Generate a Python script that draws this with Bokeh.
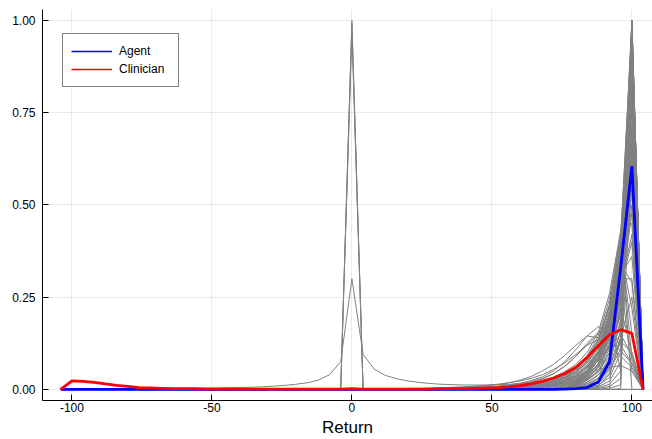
from bokeh.plotting import figure
from bokeh.models import FixedTicker, Range1d, Legend, LegendItem
from bokeh.embed import file_html
from bokeh.resources import INLINE

# ---------------- data ----------------
XS = [-104, -100, -96, -92, -88, -84, -80, -76, -72, -68, -64, -60, -56, -52, -48,
      -44, -40, -36, -32, -28, -24, -20, -16, -12, -8, -4, 0, 4, 8, 12, 16, 20,
      24, 28, 32, 36, 40, 44, 48, 52, 56, 60, 64, 68, 72, 76, 80, 84, 88, 92, 96,
      100, 104]

AGENT = [0, 0, 0, 0, 0, 0, 0, 0, 0, 0, 0, 0, 0, 0, 0, 0, 0, 0, 0, 0, 0, 0, 0, 0,
         0, 0, 0, 0, 0, 0, 0, 0, 0, 0, 0, 0, 0, 0, 0, 0, 0, 0, 0, 0, 0,
         0.001, 0.002, 0.005, 0.020, 0.075, 0.330, 0.605, 0]

CLINICIAN = [0, 0.023, 0.022, 0.019, 0.015, 0.011, 0.008, 0.005, 0.004, 0.003,
             0.002, 0.002, 0.002, 0.001, 0.001, 0.001, 0.001, 0.001, 0.001, 0.001,
             0.001, 0.001, 0.001, 0.001, 0.001, 0.001, 0.002, 0.001, 0.001, 0.001,
             0.001, 0.001, 0.001, 0.001, 0.002, 0.002, 0.002, 0.003, 0.004, 0.005,
             0.007, 0.010, 0.015, 0.022, 0.031, 0.043, 0.060, 0.087, 0.118, 0.148,
             0.162, 0.152, 0]

GRAY_CENTRAL = [0, 0.001, 0.001, 0.001, 0.001, 0.002, 0.002, 0.002, 0.002, 0.003,
                0.003, 0.003, 0.003, 0.004, 0.004, 0.005, 0.005, 0.006, 0.007, 0.009,
                0.011, 0.014, 0.018, 0.025, 0.040, 0.075, 0.300, 0.095, 0.055, 0.038,
                0.029, 0.023, 0.019, 0.016, 0.014, 0.013, 0.012, 0.012, 0.012, 0.013,
                0.014, 0.016, 0.018, 0.021, 0.025, 0.030, 0.036, 0.044, 0.052, 0.060,
                0.065, 0.050, 0]

ZERO_SPIKE_PEAKS = [1.0, 0.97, 0.99]

TAIL_X = [20, 24, 28, 32, 36, 40, 44, 48, 52, 56, 60, 64, 68, 72, 76, 80, 84, 88,
          92, 96, 100, 104]

GRAY_TAILS = [
    [0, 0, 0, 0, 0, 0, 0, 0, 0, 0.008, 0.012, 0.017, 0.024, 0.033, 0.048, 0.068, 0.100, 0.155, 0.260, 0.430, 0.000, 0],
    [0, 0, 0, 0, 0, 0, 0, 0, 0, 0, 0.008, 0.012, 0.018, 0.026, 0.038, 0.055, 0.085, 0.135, 0.230, 0.410, 0.080, 0],
    [0, 0, 0, 0, 0, 0, 0, 0, 0, 0, 0.006, 0.009, 0.014, 0.021, 0.031, 0.046, 0.072, 0.115, 0.200, 0.390, 0.150, 0],
    [0, 0, 0, 0, 0, 0, 0, 0, 0, 0, 0, 0.007, 0.011, 0.016, 0.024, 0.037, 0.060, 0.100, 0.180, 0.370, 0.220, 0],
    [0, 0, 0, 0, 0, 0, 0, 0, 0, 0, 0, 0.005, 0.008, 0.012, 0.019, 0.030, 0.050, 0.085, 0.160, 0.340, 0.290, 0],
    [0, 0, 0, 0, 0, 0, 0, 0, 0, 0, 0, 0, 0.006, 0.009, 0.014, 0.023, 0.040, 0.070, 0.140, 0.310, 0.360, 0],
    [0, 0, 0, 0, 0, 0, 0, 0, 0, 0, 0, 0, 0.004, 0.007, 0.011, 0.018, 0.032, 0.058, 0.120, 0.280, 0.420, 0],
    [0, 0, 0, 0, 0, 0, 0, 0, 0, 0, 0, 0, 0, 0.005, 0.008, 0.014, 0.025, 0.047, 0.100, 0.250, 0.480, 0],
    [0, 0, 0, 0, 0, 0, 0, 0, 0, 0, 0, 0, 0, 0.003, 0.006, 0.010, 0.019, 0.038, 0.085, 0.220, 0.540, 0],
    [0, 0, 0, 0, 0, 0, 0, 0, 0, 0, 0, 0, 0, 0, 0.004, 0.008, 0.015, 0.030, 0.070, 0.190, 0.600, 0],
    [0, 0, 0, 0, 0, 0, 0, 0, 0, 0, 0, 0, 0, 0, 0.003, 0.006, 0.011, 0.023, 0.055, 0.160, 0.660, 0],
    [0, 0, 0, 0, 0, 0, 0, 0, 0, 0, 0, 0, 0, 0, 0, 0.004, 0.008, 0.017, 0.043, 0.130, 0.720, 0],
    [0, 0, 0, 0, 0, 0, 0, 0, 0, 0, 0, 0, 0, 0, 0, 0.003, 0.006, 0.012, 0.032, 0.100, 0.780, 0],
    [0, 0, 0, 0, 0, 0, 0, 0, 0, 0, 0, 0, 0, 0, 0, 0, 0.004, 0.008, 0.022, 0.075, 0.840, 0],
    [0, 0, 0, 0, 0, 0, 0, 0, 0, 0, 0, 0, 0, 0, 0, 0, 0.002, 0.005, 0.014, 0.050, 0.890, 0],
    [0, 0, 0, 0, 0, 0, 0, 0, 0, 0, 0, 0, 0, 0, 0, 0, 0, 0.003, 0.008, 0.030, 0.940, 0],
    [0, 0, 0, 0, 0, 0, 0, 0, 0, 0, 0, 0, 0, 0, 0, 0, 0, 0, 0.004, 0.012, 0.980, 0],
    [0, 0, 0, 0, 0, 0, 0, 0, 0, 0, 0, 0, 0, 0, 0, 0, 0, 0, 0, 0.002, 1.000, 0],
    [0, 0, 0, 0, 0, 0, 0, 0, 0, 0, 0, 0, 0, 0, 0, 0, 0.010, 0.030, 0.080, 0.300, 0.050, 0],
    [0, 0, 0, 0, 0, 0, 0, 0, 0, 0, 0, 0, 0, 0, 0, 0, 0, 0.020, 0.060, 0.220, 0.100, 0],
    [0, 0, 0, 0, 0, 0, 0, 0, 0, 0, 0, 0, 0, 0, 0, 0, 0, 0.010, 0.040, 0.140, 0.250, 0],
    [0, 0, 0, 0, 0, 0, 0, 0, 0, 0, 0, 0, 0, 0, 0, 0, 0, 0, 0, 0.420, 0.450, 0],
    [0, 0, 0, 0, 0, 0, 0, 0, 0, 0, 0, 0, 0, 0, 0, 0, 0, 0, 0.200, 0.050, 0.620, 0],
    [0, 0, 0, 0, 0, 0, 0, 0, 0, 0, 0, 0.010, 0.016, 0.025, 0.038, 0.056, 0.085, 0.135, 0.230, 0.400, 1.000, 0],
    [0, 0, 0, 0, 0, 0, 0, 0, 0, 0, 0, 0, 0.012, 0.019, 0.030, 0.046, 0.072, 0.115, 0.200, 0.350, 0.970, 0],
    [0, 0, 0, 0, 0, 0, 0, 0, 0, 0, 0, 0, 0.008, 0.014, 0.023, 0.037, 0.060, 0.098, 0.170, 0.300, 0.990, 0],
    [0, 0, 0, 0, 0, 0, 0, 0, 0, 0, 0, 0, 0, 0.010, 0.017, 0.028, 0.047, 0.080, 0.140, 0.250, 0.950, 0],
    [0, 0, 0, 0, 0, 0, 0, 0, 0, 0, 0, 0.008, 0.013, 0.021, 0.033, 0.050, 0.078, 0.125, 0.215, 0.380, 0.900, 0],
    [0, 0, 0, 0, 0, 0, 0, 0, 0, 0, 0, 0, 0.010, 0.017, 0.027, 0.042, 0.066, 0.108, 0.185, 0.330, 0.850, 0],
    [0, 0, 0, 0, 0, 0, 0, 0, 0, 0, 0, 0, 0, 0.012, 0.020, 0.033, 0.053, 0.090, 0.160, 0.280, 0.800, 0],
    [0, 0, 0, 0, 0, 0, 0, 0, 0, 0, 0.008, 0.012, 0.018, 0.027, 0.040, 0.060, 0.090, 0.145, 0.245, 0.420, 0.750, 0],
    [0, 0, 0, 0, 0, 0, 0, 0, 0, 0, 0, 0, 0, 0, 0.012, 0.021, 0.037, 0.065, 0.115, 0.200, 0.920, 0],
    [0, 0, 0, 0, 0, 0, 0, 0, 0, 0, 0, 0, 0, 0, 0.009, 0.016, 0.028, 0.050, 0.090, 0.150, 0.880, 0],
    [0, 0, 0, 0, 0, 0, 0, 0, 0, 0, 0, 0, 0.009, 0.015, 0.025, 0.040, 0.063, 0.103, 0.180, 0.360, 0.700, 0],
    [0, 0, 0, 0, 0, 0, 0, 0, 0, 0, 0, 0, 0, 0.010, 0.018, 0.030, 0.050, 0.085, 0.150, 0.300, 0.650, 0],
    [0, 0, 0, 0, 0, 0, 0, 0, 0, 0, 0, 0.009, 0.014, 0.022, 0.035, 0.053, 0.080, 0.130, 0.225, 0.400, 0.600, 0],
    [0, 0, 0, 0, 0, 0, 0, 0, 0, 0, 0, 0, 0, 0, 0.013, 0.022, 0.038, 0.066, 0.120, 0.250, 0.550, 0],
    [0, 0, 0, 0, 0, 0, 0, 0, 0, 0, 0, 0, 0, 0, 0, 0.025, 0.050, 0.100, 0.200, 0.410, 0.980, 0],
    [0, 0, 0, 0, 0, 0, 0, 0, 0, 0, 0, 0, 0, 0, 0, 0.022, 0.045, 0.090, 0.180, 0.370, 1.000, 0],
    [0, 0, 0, 0, 0, 0, 0, 0, 0, 0, 0, 0, 0, 0, 0, 0.020, 0.040, 0.080, 0.160, 0.330, 0.960, 0],
    [0, 0, 0, 0, 0, 0, 0, 0, 0, 0, 0, 0, 0, 0, 0, 0.018, 0.035, 0.070, 0.140, 0.290, 0.990, 0],
    [0, 0, 0, 0, 0, 0, 0, 0, 0, 0, 0, 0, 0, 0, 0, 0.015, 0.030, 0.060, 0.120, 0.260, 0.970, 0],
    [0, 0, 0, 0, 0, 0, 0, 0, 0, 0, 0, 0, 0, 0, 0, 0.012, 0.025, 0.050, 0.100, 0.220, 1.000, 0],
    [0, 0, 0, 0, 0, 0, 0, 0, 0, 0, 0, 0, 0, 0, 0, 0.010, 0.020, 0.040, 0.080, 0.180, 0.980, 0],
    [0, 0, 0, 0, 0, 0, 0, 0, 0, 0, 0, 0, 0, 0, 0, 0.008, 0.015, 0.030, 0.060, 0.140, 0.990, 0],
    [0, 0, 0, 0, 0, 0, 0, 0, 0, 0, 0, 0, 0, 0, 0, 0.005, 0.010, 0.020, 0.050, 0.110, 0.950, 0],
    [0, 0, 0, 0, 0, 0, 0, 0, 0, 0, 0, 0, 0, 0, 0, 0.025, 0.050, 0.100, 0.190, 0.390, 0.930, 0],
    [0, 0, 0, 0, 0, 0, 0, 0, 0, 0, 0, 0, 0, 0, 0, 0.020, 0.040, 0.080, 0.170, 0.350, 0.910, 0],
    [0, 0, 0, 0, 0, 0, 0, 0, 0, 0, 0, 0, 0, 0, 0, 0.018, 0.035, 0.070, 0.150, 0.310, 0.870, 0],
    [0, 0, 0, 0, 0, 0, 0, 0, 0, 0, 0, 0, 0, 0, 0, 0.015, 0.030, 0.060, 0.130, 0.270, 0.830, 0],
    [0, 0, 0, 0, 0, 0, 0, 0, 0, 0, 0, 0, 0, 0, 0, 0.012, 0.025, 0.050, 0.110, 0.230, 0.890, 0],
    [0, 0, 0, 0, 0, 0, 0, 0, 0, 0, 0, 0, 0, 0, 0, 0.022, 0.045, 0.090, 0.180, 0.380, 0.820, 0],
    [0, 0, 0, 0, 0, 0, 0, 0, 0, 0, 0, 0, 0, 0, 0, 0.020, 0.040, 0.080, 0.160, 0.340, 0.770, 0],
    [0, 0, 0, 0, 0, 0, 0, 0, 0, 0, 0, 0, 0, 0, 0, 0.018, 0.035, 0.070, 0.140, 0.300, 0.720, 0],
    [0, 0, 0, 0, 0, 0, 0, 0, 0, 0, 0, 0, 0, 0, 0, 0.025, 0.050, 0.100, 0.210, 0.430, 0.860, 0],
    [0, 0, 0, 0, 0, 0, 0, 0, 0, 0, 0, 0, 0, 0, 0, 0.015, 0.030, 0.060, 0.120, 0.250, 0.680, 0],
    [0, 0, 0, 0, 0, 0, 0, 0, 0, 0, 0, 0, 0, 0, 0, 0.022, 0.045, 0.090, 0.190, 0.400, 0.640, 0],
    [0.001, 0.001, 0.002, 0.002, 0.003, 0.004, 0.005, 0.007, 0.009, 0.012, 0.017, 0.024, 0.034, 0.050, 0.075, 0.108, 0.145, 0.170, 0.160, 0.120, 0.070, 0],
    [0.002, 0.002, 0.003, 0.004, 0.005, 0.006, 0.008, 0.010, 0.013, 0.018, 0.025, 0.035, 0.050, 0.068, 0.092, 0.120, 0.145, 0.140, 0.115, 0.090, 0.060, 0],
    [0.001, 0.001, 0.001, 0.002, 0.002, 0.003, 0.004, 0.006, 0.008, 0.011, 0.015, 0.021, 0.030, 0.043, 0.062, 0.090, 0.125, 0.155, 0.170, 0.150, 0.090, 0],
    [0.003, 0.003, 0.004, 0.005, 0.006, 0.007, 0.009, 0.011, 0.014, 0.018, 0.023, 0.030, 0.040, 0.054, 0.072, 0.095, 0.120, 0.135, 0.130, 0.105, 0.070, 0],
    [0.000, 0.001, 0.001, 0.001, 0.002, 0.002, 0.003, 0.004, 0.006, 0.009, 0.013, 0.019, 0.028, 0.042, 0.063, 0.090, 0.120, 0.150, 0.160, 0.130, 0.100, 0],
    [0, 0, 0, 0, 0, 0.001, 0.002, 0.003, 0.004, 0.006, 0.009, 0.013, 0.019, 0.028, 0.041, 0.060, 0.090, 0.130, 0.200, 0.300, 0.300, 0],
    [0, 0, 0, 0, 0, 0, 0.001, 0.002, 0.003, 0.004, 0.006, 0.009, 0.014, 0.021, 0.032, 0.048, 0.075, 0.115, 0.180, 0.280, 0.400, 0],
    [0, 0, 0, 0, 0, 0, 0, 0.001, 0.002, 0.003, 0.004, 0.006, 0.009, 0.014, 0.022, 0.035, 0.058, 0.095, 0.160, 0.260, 0.500, 0],
    [0, 0, 0, 0, 0, 0, 0, 0, 0.001, 0.002, 0.003, 0.004, 0.006, 0.010, 0.016, 0.026, 0.045, 0.078, 0.140, 0.240, 0.550, 0],
]

X_TICKS = [-100, -50, 0, 50, 100]
X_TICK_LABELS = ["-100", "-50", "0", "50", "100"]
Y_TICKS = [0, 0.25, 0.5, 0.75, 1.0]
Y_TICK_LABELS = ["0.00", "0.25", "0.50", "0.75", "1.00"]

SERIES_NAMES = ["Agent", "Clinician"]
AXIS_LABEL = "Return"

# ---------------- build gray series ----------------
n_pad = len(XS) - len(TAIL_X)
gray_xs, gray_ys = [], []
for tail in GRAY_TAILS:
    gray_xs.append(XS)
    gray_ys.append([0] * n_pad + tail)
gray_xs.append(XS)
gray_ys.append(GRAY_CENTRAL)
for pk in ZERO_SPIKE_PEAKS:
    gray_xs.append(XS)
    gray_ys.append([pk if x == 0 else 0 for x in XS])

FONT = "Liberation Sans"

p = figure(width=652, height=439, output_backend="svg", toolbar_location=None,
           x_range=Range1d(-110.5, 107.36), y_range=Range1d(-0.0300, 1.0299),
           min_border_left=42, min_border_right=0, min_border_top=9,
           min_border_bottom=39)
p.outline_line_color = None
p.background_fill_color = "white"
p.border_fill_color = "white"

p.multi_line(gray_xs, gray_ys, line_color="#808080", line_width=1)

# thin copies (drawn underneath) used as legend glyphs
leg_a = p.line(XS, AGENT, line_color="#0000ff", line_width=1.5)
leg_c = p.line(XS, CLINICIAN, line_color="#ff0000", line_width=1.5)

p.line(XS, AGENT, line_color="#0000ff", line_width=2.8)
p.line(XS, CLINICIAN, line_color="#ff0000", line_width=2.8)

legend = Legend(items=[LegendItem(label=SERIES_NAMES[0], renderers=[leg_a]),
                       LegendItem(label=SERIES_NAMES[1], renderers=[leg_c])],
                location=(20, 313), margin=0, padding=8, spacing=0,
                glyph_width=41, glyph_height=18, label_height=18,
                label_width=51, label_standoff=7,
                label_text_font=FONT, label_text_font_size="12px",
                label_text_color="black",
                border_line_color="black", border_line_width=1,
                background_fill_color="white", background_fill_alpha=1)
p.add_layout(legend)

# axes
p.xaxis.ticker = FixedTicker(ticks=X_TICKS)
p.yaxis.ticker = FixedTicker(ticks=Y_TICKS)
p.xaxis.major_label_overrides = {t: l for t, l in zip(X_TICKS, X_TICK_LABELS)}
p.yaxis.major_label_overrides = {t: l for t, l in zip(Y_TICKS, Y_TICK_LABELS)}
for ax in (p.xaxis, p.yaxis):
    ax.major_tick_in = 6
    ax.major_tick_out = 0
    ax.minor_tick_line_color = None
    ax.axis_line_color = "black"
    ax.axis_line_width = 1
    ax.major_tick_line_color = "black"
    ax.major_label_text_font = FONT
    ax.major_label_text_font_size = "12px"
    ax.major_label_text_color = "black"
p.xaxis.major_label_standoff = 2
p.yaxis.major_label_standoff = 7
p.xaxis.axis_label = AXIS_LABEL
p.xaxis.axis_label_text_font = FONT
p.xaxis.axis_label_text_font_size = "17px"
p.xaxis.axis_label_text_font_style = "normal"
p.xaxis.axis_label_text_color = "black"
p.xaxis.axis_label_standoff = 3

p.xgrid.ticker = FixedTicker(ticks=X_TICKS)
p.ygrid.ticker = FixedTicker(ticks=Y_TICKS)
for g in (p.xgrid, p.ygrid):
    g.grid_line_color = "black"
    g.grid_line_alpha = 0.08
    g.grid_line_width = 1

open("out.html", "w").write(file_html(p, INLINE))
